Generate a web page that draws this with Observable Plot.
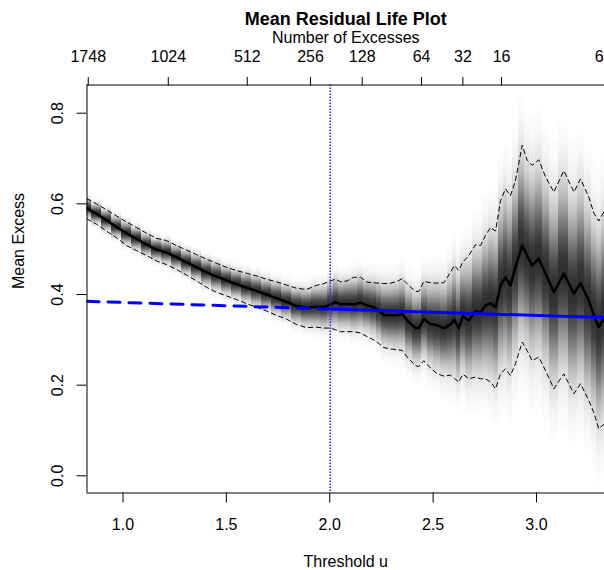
<!DOCTYPE html>
<html><head><meta charset="utf-8">
<script src="https://cdn.jsdelivr.net/npm/d3@7"></script>
<script src="https://cdn.jsdelivr.net/npm/@observablehq/plot@0.6"></script>
<style>
html,body{margin:0;padding:0;background:#fff;overflow:hidden;width:604px;height:570px}
#chart svg{display:block}
</style></head><body><div id="chart"></div>
<script>
// ---- data ----
const threshold = [
  0.826,0.872,0.920,0.969,1.017,1.065,1.114,1.162,1.210,1.259,1.307,1.356,1.404,1.452,1.500,1.548,1.597,1.645,1.693,1.742,1.790,1.838,1.887,1.935,1.971,
  2.004,2.028,2.052,2.084,2.116,2.149,2.181,2.213,2.237,2.261,2.294,2.326,2.350,2.382,2.415,2.431,2.455,2.487,2.520,2.552,2.584,2.603,2.624,
  2.644,2.673,2.705,2.729,2.753,2.778,2.802,2.826,2.850,2.874,2.898,2.931,2.955,2.979,3.011,3.044,3.084,3.132,3.181,3.213,3.253,3.277,3.301,3.329
];
const meanExcess = [
  0.590,0.578,0.564,0.549,0.535,0.523,0.510,0.499,0.493,0.482,0.471,0.460,0.449,0.440,0.431,0.423,0.415,0.408,0.400,0.392,0.384,0.375,0.371,0.373,0.372,
  0.378,0.383,0.378,0.379,0.378,0.382,0.376,0.372,0.364,0.355,0.354,0.354,0.357,0.339,0.326,0.326,0.346,0.335,0.332,0.326,0.334,0.344,0.326,
  0.352,0.343,0.363,0.361,0.376,0.381,0.372,0.420,0.438,0.420,0.460,0.508,0.486,0.464,0.479,0.446,0.405,0.446,0.402,0.425,0.387,0.354,0.328,0.350
];
const ciLower = [
  0.567,0.555,0.540,0.525,0.508,0.497,0.486,0.474,0.466,0.455,0.443,0.430,0.416,0.405,0.397,0.389,0.380,0.372,0.364,0.354,0.346,0.334,0.327,0.328,0.326,
  0.326,0.322,0.318,0.318,0.318,0.315,0.307,0.300,0.292,0.283,0.280,0.278,0.277,0.258,0.243,0.241,0.254,0.238,0.225,0.220,0.222,0.215,0.207,
  0.224,0.214,0.218,0.214,0.214,0.207,0.192,0.225,0.236,0.221,0.247,0.295,0.276,0.254,0.262,0.232,0.192,0.225,0.181,0.203,0.166,0.140,0.104,0.115
];
const ciUpper = [
  0.611,0.600,0.587,0.573,0.560,0.548,0.535,0.524,0.519,0.508,0.498,0.488,0.478,0.469,0.460,0.453,0.447,0.441,0.434,0.428,0.421,0.414,0.411,0.420,0.424,
  0.430,0.434,0.428,0.430,0.438,0.438,0.427,0.426,0.425,0.424,0.425,0.429,0.435,0.420,0.407,0.407,0.429,0.426,0.425,0.426,0.449,0.464,0.453,
  0.472,0.486,0.510,0.508,0.530,0.548,0.540,0.607,0.633,0.618,0.651,0.729,0.696,0.685,0.697,0.659,0.626,0.673,0.626,0.655,0.615,0.580,0.562,0.585
];
// fitted GPD mean-excess line (dashed below the chosen threshold, solid above)
const fitThreshold = [0.826, 2.0, 3.329];
const fitMeanExcess = [0.385, 0.368, 0.349];
const chosenThreshold = 2.0;
// axes
const xTicks = [1.0, 1.5, 2.0, 2.5, 3.0];
const yTicks = [0.0, 0.2, 0.4, 0.6, 0.8];
const excessLabels = ["1748","1024","512","256","128","64","32","16","6"];
const excessPositions = [0.832, 1.219, 1.601, 1.907, 2.157, 2.444, 2.644, 2.831, 3.332];

// ---- derived table ----
const n = threshold.length;
const rows = threshold.map((u, i) => {
  const prev = i > 0 ? threshold[i - 1] : 2 * u - threshold[i + 1];
  const next = i < n - 1 ? threshold[i + 1] : 2 * u - threshold[i - 1];
  const sd = (ciUpper[i] - ciLower[i]) / (2 * 1.96);
  return {u, m: meanExcess[i], lo: ciLower[i], hi: ciUpper[i],
          x1: (prev + u) / 2, x2: (u + next) / 2,
          y1: meanExcess[i] - 3 * sd, y2: meanExcess[i] + 3 * sd};
});
const fit = fitThreshold.map((u, i) => ({u, v: fitMeanExcess[i]}));
const fitBelow = fit.filter(d => d.u <= chosenThreshold);
const fitAbove = fit.filter(d => d.u >= chosenThreshold);
const lastIdx = excessLabels.length - 1;
const excessMap = new Map(excessPositions.map((p, i) => [p, i === lastIdx ? "" : excessLabels[i]]));

const FONT = "'Liberation Sans', Arial, Helvetica, sans-serif";
const xDom = [0.8259, 3.3289];
const yDom = [-0.0379, 0.8622];

const svg = Plot.plot({
  width: 604, height: 570,
  marginLeft: 86.5, marginRight: 0, marginTop: 84.5, marginBottom: 77.5,
  style: {fontFamily: FONT, background: "#fff", color: "#000", overflow: "hidden"},
  x: {domain: xDom},
  y: {domain: yDom},
  marks: [
    Plot.rect(rows, {x1: "x1", x2: "x2", y1: "y1", y2: "y2", fill: "url(#mrlShade)", shapeRendering: "crispEdges", clip: true}),
    Plot.line(rows, {x: "u", y: "hi", stroke: "#000", strokeWidth: 1, strokeDasharray: "4.5,3.5", clip: true}),
    Plot.line(rows, {x: "u", y: "lo", stroke: "#000", strokeWidth: 1, strokeDasharray: "4.5,3.5", clip: true}),
    Plot.line(rows, {x: "u", y: "m", stroke: "#000", strokeWidth: 2.5, clip: true}),
    Plot.line(fitBelow, {x: "u", y: "v", stroke: "#0000ff", strokeWidth: 3, strokeDasharray: "12,9", clip: true}),
    Plot.line(fitAbove, {x: "u", y: "v", stroke: "#0000ff", strokeWidth: 3, clip: true}),
    Plot.ruleX([chosenThreshold], {stroke: "#2a2aff", strokeWidth: 1.6, strokeDasharray: "1.5,1.5", dx: 0.5}),
    // frame (left, top, bottom)
    Plot.ruleX([xDom[0]], {stroke: "#000", strokeWidth: 1}),
    Plot.ruleY([yDom[1]], {stroke: "#000", strokeWidth: 1}),
    Plot.ruleY([yDom[0]], {stroke: "#000", strokeWidth: 1}),
    // bottom axis
    Plot.axisX({anchor: "bottom", ticks: xTicks, tickSize: 10, tickPadding: 15.5, tickFormat: d => d.toFixed(1), fontSize: 16, label: null, stroke: "#000"}),
    // top axis: number of excesses
    Plot.axisX({anchor: "top", ticks: excessPositions, tickSize: 8.5, tickPadding: 14.3, tickFormat: d => excessMap.get(d), fontSize: 16, label: null, stroke: "#000"}),
    // last excess label sits at the right edge of the frame
    Plot.text([excessLabels[lastIdx]], {x: () => excessPositions[lastIdx], frameAnchor: "top", dy: -22.8, dx: -1.5, textAnchor: "end", lineAnchor: "bottom", fontSize: 16, fill: "#000", clip: false}),
    // left axis ticks
    Plot.axisY({anchor: "left", ticks: yTicks, tickSize: 10, tickFormat: () => "", label: null, stroke: "#000"}),
    Plot.text(yTicks, {y: d => d, text: d => d.toFixed(1), frameAnchor: "left", dx: -29.5, rotate: -90, textAnchor: "middle", lineAnchor: "middle", fontSize: 16, fill: "#000"}),
    // titles
    Plot.text(["Mean Residual Life Plot"], {frameAnchor: "top", dy: -60.5, lineAnchor: "bottom", fontSize: 18, fontWeight: "bold", fill: "#000", letterSpacing: "0.75px"}),
    Plot.text(["Number of Excesses"], {frameAnchor: "top", dy: -41.8, lineAnchor: "bottom", fontSize: 16, fill: "#000", letterSpacing: "0.2px"}),
    Plot.text(["Threshold u"], {frameAnchor: "bottom", dy: 74, lineAnchor: "bottom", fontSize: 16, fill: "#000"}),
    Plot.text(["Mean Excess"], {frameAnchor: "left", dx: -68.5, rotate: -90, lineAnchor: "middle", fontSize: 16, fill: "#000"})
  ]
});

// vertical gradient used for the confidence shading strips
const ns = "http://www.w3.org/2000/svg";
const defs = document.createElementNS(ns, "defs");
const grad = document.createElementNS(ns, "linearGradient");
grad.setAttribute("id", "mrlShade");
grad.setAttribute("x1", "0"); grad.setAttribute("y1", "0");
grad.setAttribute("x2", "0"); grad.setAttribute("y2", "1");
for (let k = 0; k <= 40; k++) {
  const t = k / 40, z = (t - 0.5) * 6;
  const stop = document.createElementNS(ns, "stop");
  stop.setAttribute("offset", t);
  stop.setAttribute("stop-color", "#000");
  stop.setAttribute("stop-opacity", (0.82 * Math.exp(-z * z / 2)).toFixed(4));
  grad.appendChild(stop);
}
defs.appendChild(grad);
svg.insertBefore(defs, svg.firstChild);
document.getElementById("chart").appendChild(svg);
</script></body></html>
